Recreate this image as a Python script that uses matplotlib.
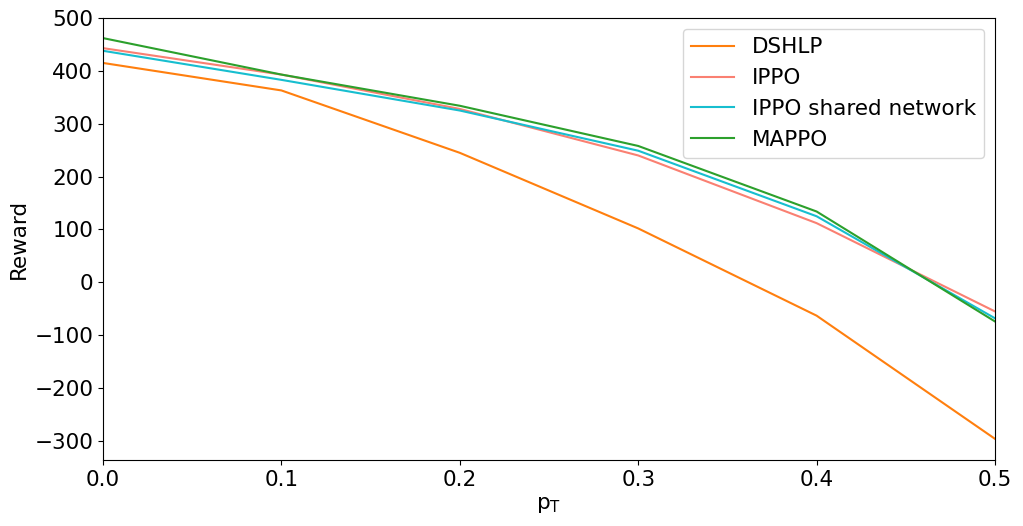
import matplotlib
matplotlib.use("Agg")
import matplotlib.pyplot as plt

# Datos
p_t = [0.0, 0.1, 0.2, 0.3, 0.4, 0.5]
dshlp = [415, 363, 245, 102, -63, -296]
ippo = [443, 393, 328, 240, 112, -55]
ippo_shared = [438, 383, 325, 249, 125, -68]
mappo = [462, 393, 334, 258, 134, -74]

plt.rcParams['font.size'] = 15.5

fig = plt.figure(figsize=(10.23, 5.26), dpi=100)
ax = fig.add_axes([103 / 1023, 1 - 460 / 526, (995 - 103) / 1023, (460 - 18) / 526])

ax.plot(p_t, dshlp, color='#ff7f0e', label='DSHLP')
ax.plot(p_t, ippo, color='#fa8072', label='IPPO')
ax.plot(p_t, ippo_shared, color='#17becf', label='IPPO shared network')
ax.plot(p_t, mappo, color='#2ca02c', label='MAPPO')

ax.set_xlim(0, 0.5)
ax.set_ylim(-336, 500)
ax.set_xticks([0.0, 0.1, 0.2, 0.3, 0.4, 0.5])
ax.set_yticks(range(-300, 501, 100))
ax.set_xlabel(r'p$_\mathregular{T}$')
ax.set_ylabel('Reward')
ax.legend(loc='upper right')

fig.savefig('out.png', dpi=100)
